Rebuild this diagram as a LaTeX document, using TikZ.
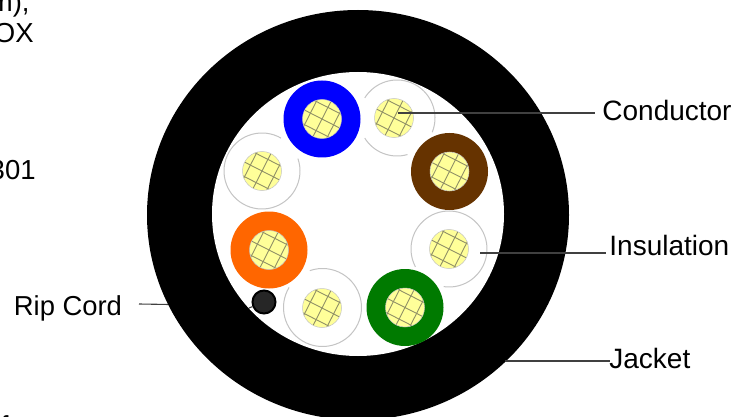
\documentclass[tikz,border=0pt]{standalone}
\usepackage{fontspec}
\setmainfont{Liberation Sans}
\usepackage{tikz}
\usetikzlibrary{shapes.geometric}
\definecolor{coreyellow}{HTML}{FFFF99}
\definecolor{hatchgray}{HTML}{8F8F66}
\definecolor{ringgray}{HTML}{C4C4C4}
\definecolor{wirebrown}{HTML}{663300}
\definecolor{wireorange}{HTML}{FF6600}
\definecolor{wiregreen}{HTML}{007A00}
\begin{document}
\begin{tikzpicture}[
				x=1pt, y=-1pt,
				thick,
				core/.style = {circle, inner sep=0pt, minimum size=39pt, draw=ringgray, line width=0.5pt, fill=coreyellow,
					path picture={
						\foreach \d in {-13,0,13} {
							\draw[hatchgray, line width=0.9pt] (path picture bounding box.center) ++(63:\d pt) ++(-27:25pt) -- ++(153:50pt);
							\draw[hatchgray, line width=0.9pt] (path picture bounding box.center) ++(-27:\d pt) ++(63:25pt) -- ++(243:50pt);
						}
					}},
				wire/.style = {circle, inner sep=0pt, minimum size=77pt},
				ring/.style = {draw=ringgray, line width=1pt},
				lead/.style = {draw=black!75, line width=1.1pt},
				label/.style = {inner sep=0pt, font=\fontsize{28}{30}\selectfont, text=black},
				cutoff/.style = {inner sep=0pt, font=\fontsize{27.5}{30}\selectfont, text=black, anchor=east}
				]
				\useasboundingbox (0,0) rectangle (747,417);
				
				% leftover text at the edge
				\node[cutoff] (textA) at (30,4) {m),};
				\node[cutoff] (textB) at (34,33) {OX};
				\node[cutoff] (textC) at (36,170) {301};
				\node[cutoff] (textD) at (9,426) {f};
				
				% labels
				\node[label, anchor=west] (conductor) at (602,110) {Conductor};
				\node[label, anchor=west] (insulation) at (609,245) {Insulation};
				\node[label, anchor=west] (jacketlabel) at (609,358) {Jacket};
				\node[label, anchor=west, font=\fontsize{27.4}{30}\selectfont] (ripcordlabel) at (13.5,308) {Rip Cord};
				
				% rip cord lead runs under the jacket
				\coordinate (ripstart) at (139,304);
				\coordinate (ripunder) at (200,305);
				\draw[lead] (ripstart) -- (ripunder);
				
				% jacket
				\node[ellipse, minimum width=422pt, minimum height=410pt, inner sep=0pt, fill=black] (jacket) at (358,215) {};
				\node[ellipse, minimum width=292pt, minimum height=284pt, inner sep=0pt, fill=white] (bore) at (358,214) {};
				
				% rip cord
				\coordinate (ripend) at (249,308);
				\node[circle, inner sep=0pt, minimum size=23pt, fill=black!85, draw=black, line width=2pt] (ripcord) at (264,302) {};
				\draw[lead] (ripend) -- (ripcord);
				
				% coloured wires
				\node[wire, fill=blue] (wireblue) at (322,119) {};
				\node[wire, fill=wirebrown] (wirebrown) at (449.5,171.5) {};
				\node[wire, fill=wiregreen] (wiregreen) at (405,307.5) {};
				\node[wire, fill=wireorange] (wireorange) at (269,250) {};
				
				% white wires
				\draw[ring] (262,171) ++(60:38pt) arc[start angle=60, end angle=379, radius=38pt];
				\draw[ring] (397,118) ++(-22:38pt) arc[start angle=-22, end angle=148, radius=38pt];
				\draw[ring] (397,118) ++(212:38pt) arc[start angle=212, end angle=286, radius=38pt];
				\draw[ring] (449,249) ++(262:38pt) arc[start angle=262, end angle=568, radius=38pt];
				\draw[ring] (322.5,307.5) ++(149:39pt) arc[start angle=149, end angle=469, radius=39pt];
				
				% conductors
				\node[core] (coreA) at (322,119) {};
				\node[core] (coreB) at (394,118) {};
				\node[core] (coreC) at (449.5,171.5) {};
				\node[core] (coreD) at (449,249) {};
				\node[core] (coreE) at (405,307.5) {};
				\node[core] (coreF) at (322,308) {};
				\node[core] (coreG) at (269,250) {};
				\node[core] (coreH) at (262,171) {};
				
				% leads
				\coordinate (condstart) at (398,113);
				\coordinate (condend) at (595,113);
				\coordinate (insstart) at (480,253);
				\coordinate (insend) at (606,253);
				\coordinate (jackstart) at (505,361);
				\coordinate (jackend) at (610,361);
				\draw[lead] (condstart) -- (condend);
				\draw[lead] (insstart) -- (insend);
				\draw[lead] (jackstart) -- (jackend);
			\end{tikzpicture}
\end{document}
